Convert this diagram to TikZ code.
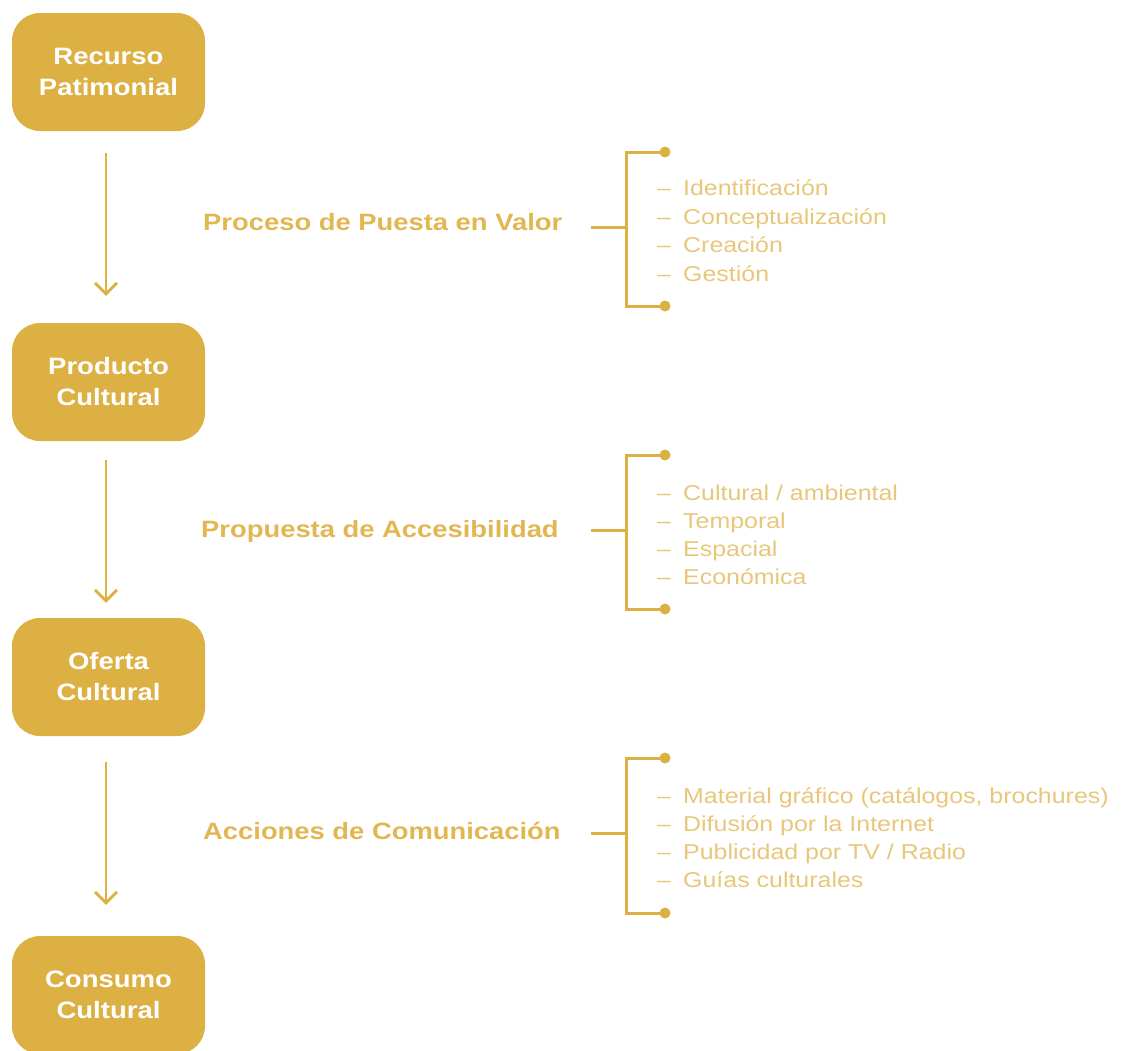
\documentclass[tikz,border=0pt]{standalone}
\usepackage{fontspec}
\setmainfont[FakeStretch=1.16]{Liberation Sans}
\usetikzlibrary{arrows.meta}
\definecolor{boxgold}{HTML}{DDB043}
\definecolor{labgold}{HTML}{E2B752}
\definecolor{itemgold}{HTML}{E8C67A}
\definecolor{linegold}{HTML}{DDB043}
\begin{document}
\begin{tikzpicture}[x=1pt,y=-1pt,
  stagebox/.style={fill=boxgold,draw=none,rounded corners=28pt,minimum width=193pt,minimum height=118pt,
    text=white,align=center,font=\fontsize{23.7}{31}\selectfont\bfseries,inner sep=0pt},
  flowarrow/.style={draw=linegold,line width=2.8pt,-{Straight Barb[length=11pt,width=22pt,line width=2.8pt]}},
  steplabel/.style={anchor=base west,text=labgold,font=\fontsize{23.6}{28}\selectfont\bfseries,inner sep=0pt},
  itemtext/.style={anchor=base west,text=itemgold,font=\fontsize{21.5}{28}\selectfont,inner sep=0pt},
  bracketline/.style={draw=linegold,line width=3pt},
  enddot/.style={fill=linegold,draw=none}]
\useasboundingbox (0,0) rectangle (1121,1050);
% boxes
\node[stagebox] (b1) at (108.5,72) {Recurso\\Patimonial};
\node[stagebox] (b2) at (108.5,382) {Producto\\Cultural};
\node[stagebox] (b3) at (108.5,677) {Oferta\\Cultural};
\node[stagebox] (b4) at (108.5,995) {Consumo\\Cultural};
% arrows
\draw[flowarrow] ([xshift=-2.5pt,yshift=-22pt]b1.south) -- ([xshift=-2.5pt,yshift=27pt]b2.north);
\draw[flowarrow] ([xshift=-2.5pt,yshift=-19pt]b2.south) -- ([xshift=-2.5pt,yshift=15pt]b3.north);
\draw[flowarrow] ([xshift=-2.5pt,yshift=-26pt]b3.south) -- ([xshift=-2.5pt,yshift=31pt]b4.north);
% labels
\node[steplabel] (l1) at (203,230.7) {Proceso de Puesta en Valor};
\node[steplabel] (l2) at (201,537) {Propuesta de Accesibilidad};
\node[steplabel] (l3) at (203,839) {Acciones de Comunicación};
% brackets
\foreach \n/\top/\mid/\bot in {1/152/227/306, 2/455/530/609, 3/758/833/913}{
  \coordinate (s\n) at (591,\mid);
  \coordinate (m\n) at (626,\mid);
  \coordinate (t\n) at (665,\top);
  \coordinate (u\n) at (665,\bot);
  \draw[bracketline] (s\n) -- (m\n);
  \draw[bracketline] (t\n) -| (m\n) |- (u\n);
  \fill[enddot] (t\n) circle (5.5pt);
  \fill[enddot] (u\n) circle (5.5pt);
}
% items
\newcommand{\itm}[1]{\makebox[26pt][l]{–}#1}
\node[itemtext] (i11) at (657,195.5) {\itm{Identificación}};
\node[itemtext] (i12) at (657,224) {\itm{Conceptualización}};
\node[itemtext] (i13) at (657,252.7) {\itm{Creación}};
\node[itemtext] (i14) at (657,281) {\itm{Gestión}};
\node[itemtext] (i21) at (657,500) {\itm{Cultural / ambiental}};
\node[itemtext] (i22) at (657,528.3) {\itm{Temporal}};
\node[itemtext] (i23) at (657,556.5) {\itm{Espacial}};
\node[itemtext] (i24) at (657,584.5) {\itm{Económica}};
\node[itemtext] (i31) at (657,803) {\itm{Material gráfico (catálogos, brochures)}};
\node[itemtext] (i32) at (657,831.5) {\itm{Difusión por la Internet}};
\node[itemtext] (i33) at (657,859.5) {\itm{Publicidad por TV / Radio}};
\node[itemtext] (i34) at (657,887.5) {\itm{Guías culturales}};
\end{tikzpicture}
\end{document}
